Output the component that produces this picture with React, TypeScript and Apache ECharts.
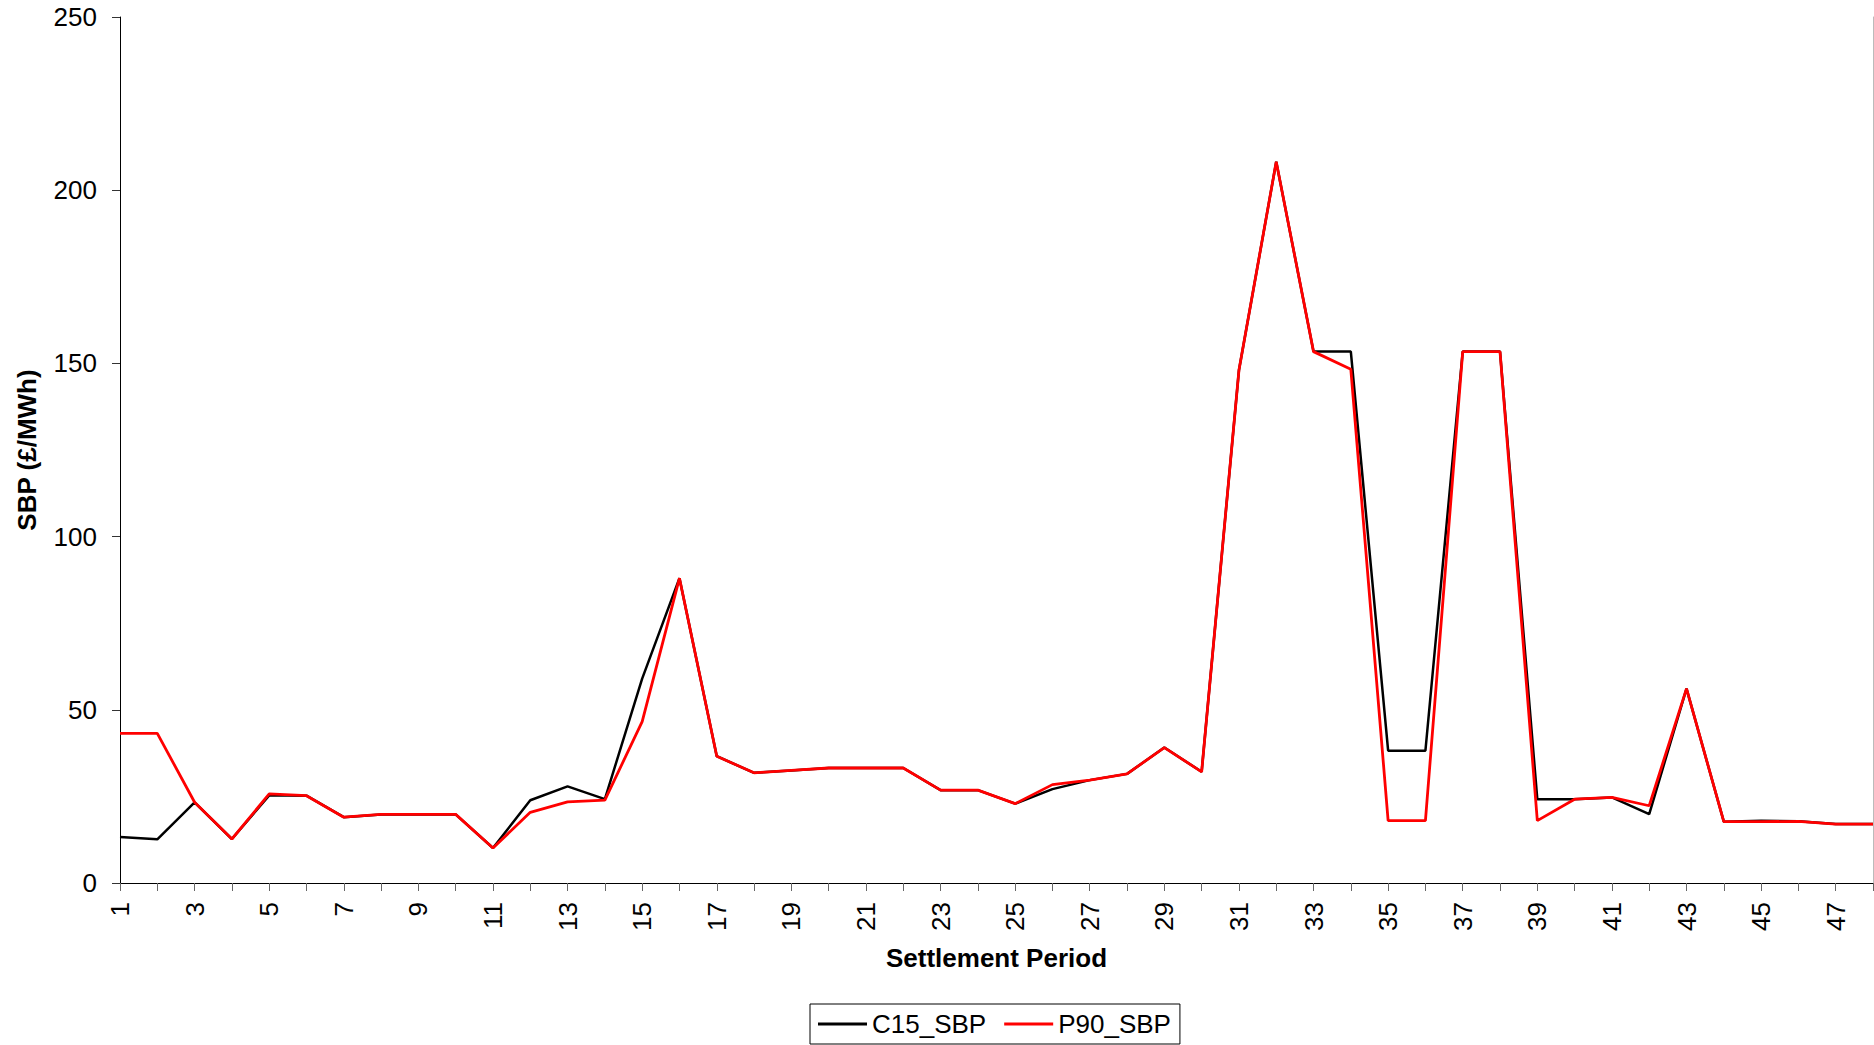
import React, { useEffect, useRef } from "react";
import * as echarts from "echarts";

const periods: string[] = Array.from({ length: 48 }, (_, i) => String(i + 1));

const c15SBP: number[] = [
  13.3, 12.6, 23.3, 12.7, 25.3, 25.2, 19.0, 19.8, 19.8, 19.8,
  10.1, 23.9, 27.9, 24.2, 59.0, 88.0, 36.6, 31.8, 32.5, 33.2,
  33.2, 33.2, 26.8, 26.8, 22.9, 27.1, 29.7, 31.5, 39.1, 32.1,
  148.0, 208.2, 153.4, 153.4, 38.2, 38.2, 153.4, 153.4, 24.2, 24.2,
  24.7, 19.9, 56.1, 17.7, 18.0, 17.8, 17.0, 17.0,
];

const p90SBP: number[] = [
  43.2, 43.2, 23.3, 12.7, 25.7, 25.2, 19.0, 19.8, 19.8, 19.8,
  10.1, 20.4, 23.4, 23.9, 46.6, 88.0, 36.6, 31.8, 32.5, 33.2,
  33.2, 33.2, 26.8, 26.8, 22.9, 28.4, 29.7, 31.5, 39.1, 32.1,
  148.0, 208.2, 153.4, 148.3, 18.0, 18.0, 153.4, 153.4, 18.0, 24.2,
  24.7, 22.3, 56.1, 17.7, 17.7, 17.8, 17.0, 17.0,
];

const seriesNames: string[] = ["C15_SBP", "P90_SBP"];
const FONT = "'Liberation Sans', Arial, sans-serif";

export default function App() {
  const ref = useRef<HTMLDivElement>(null);

  useEffect(() => {
    if (!ref.current) return;
    const chart = echarts.init(ref.current, null, { renderer: "svg" });
    chart.setOption({
      animation: false,
      backgroundColor: "#fff",
      textStyle: { fontFamily: FONT },
      grid: { left: 120, right: 1, top: 17, bottom: 162, containLabel: false },
      legend: {
        data: seriesNames,
        left: 810,
        top: 1004,
        orient: "horizontal",
        icon: "rect",
        itemWidth: 49,
        itemHeight: 3,
        itemGap: 18,
        padding: [7, 9, 7, 8],
        borderColor: "#000",
        borderWidth: 1,
        textStyle: { fontSize: 26, color: "#000", fontFamily: FONT },
      },
      xAxis: [
        {
          type: "category",
          data: periods,
          boundaryGap: false,
          position: "bottom",
          name: "Settlement Period",
          nameLocation: "middle",
          nameGap: 62,
          nameTextStyle: { fontSize: 26, fontWeight: "bold", color: "#000", fontFamily: FONT },
          axisLine: { show: true, lineStyle: { color: "#000", width: 1 } },
          axisTick: { show: true, interval: 0, length: 8, lineStyle: { color: "#666" } },
          axisLabel: { interval: 1, rotate: 90, margin: 19, fontSize: 26, color: "#000", fontFamily: FONT },
          splitLine: { show: false },
        },
        {
          type: "category",
          data: periods,
          boundaryGap: false,
          position: "top",
          axisLine: { show: true, lineStyle: { color: "#000", width: 1 } },
          axisTick: { show: false },
          axisLabel: { show: false },
          splitLine: { show: false },
        },
      ],
      yAxis: [
        {
          type: "value",
          min: 0,
          max: 250,
          interval: 50,
          name: "SBP (£/MWh)",
          nameLocation: "middle",
          nameRotate: 90,
          nameGap: 80,
          nameTextStyle: { fontSize: 26, fontWeight: "bold", color: "#000", fontFamily: FONT },
          axisLine: { show: true, lineStyle: { color: "#000", width: 1 } },
          axisTick: { show: true, length: 8, lineStyle: { color: "#333" } },
          axisLabel: { margin: 23, fontSize: 26, color: "#000", fontFamily: FONT },
          splitLine: { show: false },
        },
        {
          type: "value",
          min: 0,
          max: 250,
          interval: 50,
          position: "right",
          axisLine: { show: true, lineStyle: { color: "#bbb", width: 1 } },
          axisTick: { show: false },
          axisLabel: { show: false },
          splitLine: { show: false },
        },
      ],
      series: [
        {
          name: seriesNames[0],
          type: "line",
          data: c15SBP,
          xAxisIndex: 0,
          yAxisIndex: 0,
          showSymbol: false,
          symbol: "none",
          itemStyle: { color: "#000" },
          lineStyle: { color: "#000", width: 2.5 },
        },
        {
          name: seriesNames[1],
          type: "line",
          data: p90SBP,
          xAxisIndex: 0,
          yAxisIndex: 0,
          showSymbol: false,
          symbol: "none",
          itemStyle: { color: "#ff0000" },
          lineStyle: { color: "#ff0000", width: 2.8 },
        },
      ],
    });
    return () => chart.dispose();
  }, []);

  return (
    <div
      ref={ref}
      style={{ position: "absolute", left: 0, top: 0, width: 1874, height: 1045, background: "#fff" }}
    />
  );
}
